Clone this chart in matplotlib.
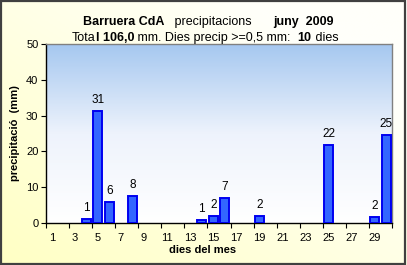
import numpy as np
import matplotlib
matplotlib.use("Agg")
import matplotlib.pyplot as plt
from matplotlib.patches import Rectangle
from matplotlib.colors import LinearSegmentedColormap

days = list(range(1, 31))
rain_days = [4, 5, 6, 8, 14, 15, 16, 19, 25, 29, 30]
rain_vals = [1.2, 31.2, 6.0, 7.6, 0.8, 2.0, 7.0, 2.0, 21.8, 1.8, 24.6]
xtick_labels = [str(d) for d in range(1, 31, 2)]
yticks = [0, 10, 20, 30, 40, 50]

plt.rcParams['font.family'] = ['Liberation Sans', 'DejaVu Sans']

W, H = 407, 265
fig = plt.figure(figsize=(W / 100, H / 100), dpi=100)

# figure background gradient
bg = fig.add_axes([0, 0, 1, 1], zorder=-10)
bg.set_axis_off()
yy, xx = np.mgrid[0:1:100j, 0:1:100j]
t = np.clip((xx + yy) / 1.6, 0, 1)
cmap_bg = LinearSegmentedColormap.from_list('bg', ['#FFFFC4', '#FFFFFA'])
bg.imshow(t, origin='lower', extent=[0, 1, 0, 1], cmap=cmap_bg, aspect='auto', vmin=0, vmax=1)
bg.set_xlim(0, 1); bg.set_ylim(0, 1)
bg.add_patch(Rectangle((0.002, 0.004), 0.994, 0.992, fill=False, edgecolor='#404040', lw=1.6,
                       transform=bg.transAxes))

ax = fig.add_axes([46 / W, 1 - 223 / H, (392 - 46) / W, (223 - 44) / H])
ax.set_xlim(0.5, 30.5)
ax.set_ylim(0, 50)
grad = np.linspace(0, 1, 200).reshape(-1, 1)
cmap_pl = LinearSegmentedColormap.from_list('pl', ['#FFFFFF', '#EEF3FC', '#A6C8F0'])
ax.imshow(grad, origin='lower', extent=[0.5, 30.5, 0, 50], cmap=cmap_pl, aspect='auto', zorder=0)

ax.bar(rain_days, rain_vals, width=0.78, color='#3366FF', edgecolor='#0000F0', linewidth=1.4, zorder=3)
for d, v in zip(rain_days, rain_vals):
    ax.text(d, v + 1.4, f"{v:.0f}", ha='center', va='bottom', fontsize=8.5, color='black', zorder=4)

ax.set_xticks(np.arange(0.5, 31, 2))
ax.set_xticklabels([])
ax.set_xticks(range(1, 31, 2), minor=True)
ax.set_xticklabels(xtick_labels, minor=True, fontsize=8)
ax.tick_params(axis='x', which='minor', length=0, pad=7)
ax.tick_params(axis='x', which='major', length=3.5, width=0.8, direction='out')
ax.set_yticks(yticks)
ax.set_yticklabels([str(v) for v in yticks], fontsize=8)
ax.tick_params(axis='y', length=3.5, width=0.8, direction='out', pad=2)

for s in ['left', 'bottom']:
    ax.spines[s].set_color('black'); ax.spines[s].set_linewidth(1.0)
for s in ['top', 'right']:
    ax.spines[s].set_color('#808080'); ax.spines[s].set_linewidth(1.0)

fig.text(15 / W, 1 - 133 / H, 'precipitació  (mm)', rotation=90, ha='center', va='center',
         fontsize=8, fontweight='bold')
fig.text(203 / W, 1 - 250 / H, 'dies del mes', ha='center', va='center', fontsize=8, fontweight='bold')

def run_text(pieces, xc, y, size):
    # pieces: list of (text, bold)
    fig.canvas.draw()
    r = fig.canvas.get_renderer()
    objs = []
    widths = []
    for s, b in pieces:
        o = fig.text(0, y, s, fontsize=size, fontweight='bold' if b else 'normal', va='baseline', ha='left')
        w = o.get_window_extent(renderer=r).width / W
        objs.append(o); widths.append(w)
    x = xc - sum(widths) / 2
    for o, w in zip(objs, widths):
        o.set_x(x)
        x += w

run_text([('Barruera CdA', True), ('   precipitacions      ', False), ('juny  2009', True)],
         208 / W, 1 - 25 / H, 9)
run_text([('Tota', False), ('l 106,0', True), (' mm. Dies precip >=0,5 mm:  ', False), ('10', True), (' dies', False)],
         205 / W, 1 - 41 / H, 9)

fig.savefig('out.png', dpi=100)
